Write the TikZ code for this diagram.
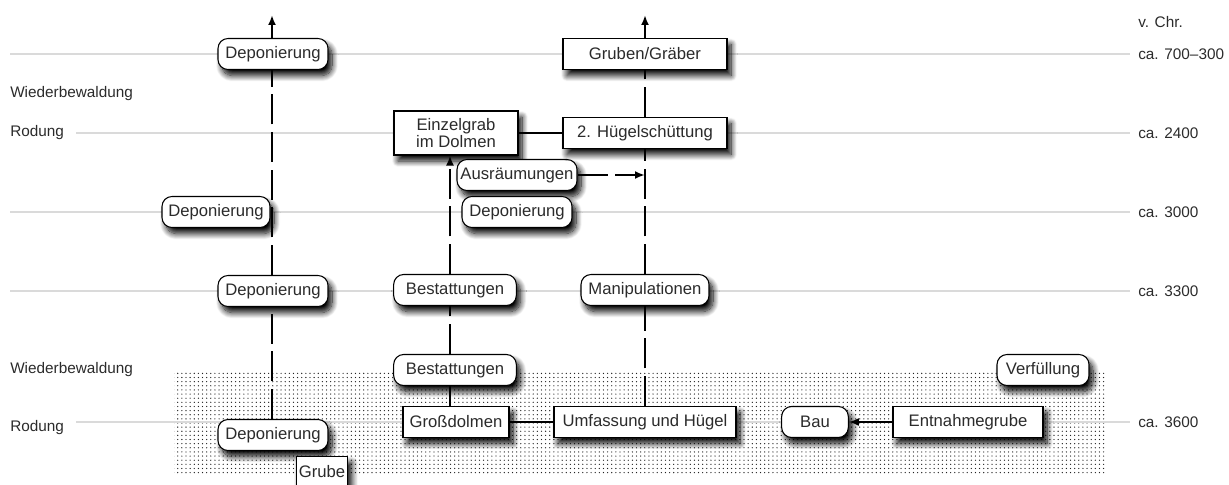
\documentclass[tikz,border=0pt]{standalone}
\usepackage{fontspec}
\setmainfont{Liberation Sans}
\usetikzlibrary{arrows.meta, patterns, shadows.blur}
\definecolor{inkrule}{HTML}{DADADA}
\definecolor{inktext}{HTML}{2B2B2B}
\definecolor{inkdots}{HTML}{222222}
\pgfdeclarepatternformonly{looseDots}{\pgfqpoint{-1pt}{-1pt}}{\pgfqpoint{2pt}{2pt}}{\pgfqpoint{3.1pt}{3.1pt}}%
  {\pgfpathcircle{\pgfqpoint{0pt}{0pt}}{.5pt}\pgfusepath{fill}}
\tikzset{
  phase/.style={draw=black, line width=0.8pt, fill=white, rounded corners=7.5pt,
    minimum height=23.25pt, inner sep=2pt, text=inktext,
    blur shadow={shadow xshift=3pt, shadow yshift=-4.5pt, shadow blur radius=4.5pt,
      shadow blur steps=12, shadow opacity=100}},
  feature/.style={phase, sharp corners},
  era/.style={text=inktext, anchor=west, inner sep=0pt, font=\fontsize{11.5}{13}\selectfont},
  timeline/.style={inkrule, line width=1.1pt},
  track/.style={line width=1.7pt, dash pattern=on 22.5pt off 5.75pt},
  link/.style={line width=1.5pt},
  headed/.style={-{Latex[length=7.5pt, width=6pt]}}
}

\begin{document}
\begin{tikzpicture}[x=0.75pt, y=-0.75pt, font=\fontsize{12.5}{13}\selectfont]
  \useasboundingbox (0,0) rectangle (1229,485);
  % dotted band
  \fill[pattern=looseDots, pattern color=inkdots] (174,370) rectangle (1106,474);

  % years and phases
  \node[era] (vchr) at (1138,22) {v. Chr.};
  \node[era] (y300) at (1138,54) {ca. 700--300};
  \node[era] (y2400) at (1138,133) {ca. 2400};
  \node[era] (y3000) at (1138,212) {ca. 3000};
  \node[era] (y3300) at (1138,291) {ca. 3300};
  \node[era] (y3600) at (1138,422) {ca. 3600};
  \node[era] (wb1) at (10,94) {Wiederbewaldung};
  \node[era] (rod1) at (10,133) {Rodung};
  \node[era] (wb2) at (10,370) {Wiederbewaldung};
  \node[era] (rod2) at (10,428) {Rodung};

  \draw[timeline, shorten >=6pt] (10,54) -- (y300.west);
  \draw[timeline, shorten <=9pt, shorten >=6pt] (rod1.east) -- (y2400.west);
  \draw[timeline, shorten >=6pt] (10,212) -- (y3000.west);
  \draw[timeline, shorten >=6pt] (10,291) -- (y3300.west);
  \draw[timeline, shorten <=9pt, shorten >=6pt] (rod2.east |- y3600.west) -- (y3600.west);

  \coordinate (colA) at (272,15);
  \coordinate (colB) at (450,0);
  \coordinate (colC) at (645,15);

  % left column
  \node[phase, minimum width=82.5pt] (depA1) at (273,54) {Deponierung};
  \node[phase, minimum width=81pt] (depA2) at (216,212) {Deponierung};
  \node[phase, minimum width=82.5pt] (depA3) at (273,291) {Deponierung};
  \node[phase, minimum width=82.5pt] (depA4) at (273,435) {Deponierung};
  \node[feature, minimum width=34pt] (grube) at (322,472) {Grube};

  % dolmen column
  \node[feature, minimum width=93pt, minimum height=33pt, align=center] (einzel) at (456,133) {Einzelgrab\\im Dolmen};
  \node[phase, minimum width=90pt] (ausr) at (517,175) {Ausräumungen};
  \node[phase, minimum width=82.5pt] (depB) at (517,212) {Deponierung};
  \node[phase, minimum width=92pt] (best1) at (455,290) {Bestattungen};
  \node[phase, minimum width=92pt] (best2) at (455,370) {Bestattungen};
  \node[feature, minimum width=79.5pt] (dolmen) at (456,422) {Großdolmen};

  % mound column
  \node[feature, minimum width=123pt] (gruben) at (645,54) {Gruben/Gräber};
  \node[feature, minimum width=123pt] (huegel) at (645,133) {2. Hügelschüttung};
  \node[phase, minimum width=96pt] (manip) at (645,290) {Manipulationen};
  \node[feature, minimum width=136.5pt] (umf) at (645,422) {Umfassung und Hügel};

  % quarry
  \node[phase, minimum width=50pt] (bau) at (815,422) {Bau};
  \node[feature, minimum width=112.5pt] (entn) at (968,422) {Entnahmegrube};
  \node[phase, minimum width=69pt] (verf) at (1043,370) {Verfüllung};

  \draw[track] (depA4.north -| colA) -- (depA3.south -| colA);
  \draw[track] (depA3.north -| colA) -- (depA1.south -| colA);
  \draw[link, headed] (depA1.north -| colA) -- (colA);

  \draw[link] (dolmen.north -| colB) -- (best2.south -| colB);
  \draw[track] (best2.north -| colB) -- (best1.south -| colB);
  \draw[track, headed] (best1.north -| colB) -- (einzel.south -| colB);

  \draw[track] (umf.north) -- (manip.south);
  \draw[track] (manip.north) -- (huegel.south);
  \draw[track] (huegel.north) -- (gruben.south);
  \draw[link, headed] (gruben.north) -- (colC);

  \draw[link] (einzel.east) -- (huegel.west);
  \draw[link] (dolmen.east) -- (umf.west);
  \draw[track, headed] (ausr.east) -- (ausr.east -| colC);
  \draw[link, headed] (entn.west) -- (bau.east);
\end{tikzpicture}
\end{document}
